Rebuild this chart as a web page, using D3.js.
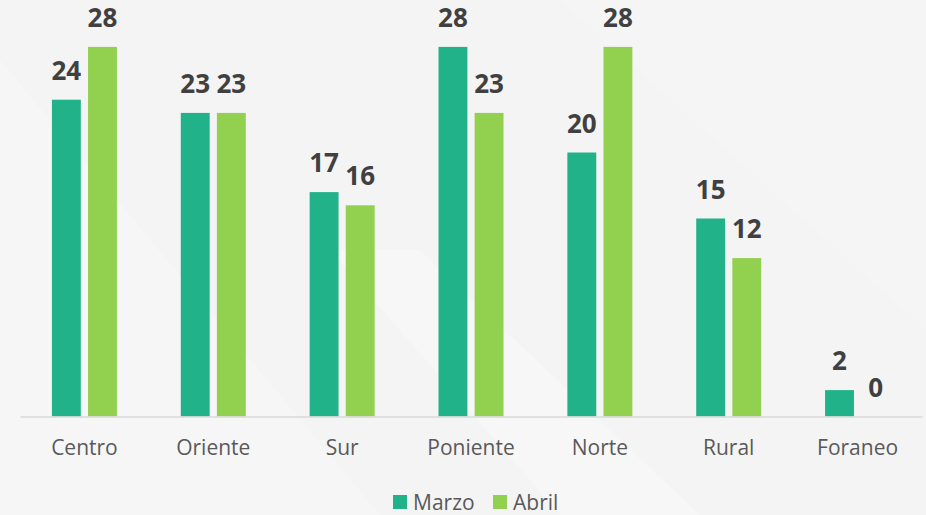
<!DOCTYPE html>
<html>
<head>
<meta charset="utf-8">
<script src="https://cdn.jsdelivr.net/npm/d3@7"></script>
<style>
  html, body { margin: 0; padding: 0; background: #f4f4f4; }
  svg { display: block; }
</style>
</head>
<body>
<svg id="chart" width="926" height="515"></svg>
<script>
// Casos por zona, comparativo marzo / abril
const categories = ["Centro", "Oriente", "Sur", "Poniente", "Norte", "Rural", "Foraneo"];
const seriesNames = ["Marzo", "Abril"];
const marzo = [24, 23, 17, 28, 20, 15, 2];
const abril = [28, 23, 16, 23, 28, 12, 0];
const colors = ["#21b28a", "#92d050"];

const W = 926, H = 515;
const svg = d3.select("#chart");

// soft diagonal sheen on the background
const bg = svg.append("g");
bg.append("rect").attr("width", W).attr("height", H).attr("fill", "#f4f4f4");
bg.append("path").attr("d", "M0,60 L0,515 L380,515 Z").attr("fill", "#ffffff").attr("opacity", 0.2);
bg.append("path").attr("d", "M330,250 L560,515 L700,515 L420,250 Z").attr("fill", "#ffffff").attr("opacity", 0.25);
bg.append("path").attr("d", "M560,0 L926,330 L926,0 Z").attr("fill", "#ffffff").attr("opacity", 0.15);

const baseline = 416.5;
const x0 = d3.scaleBand().domain(categories).range([20, 922]).paddingInner(0).paddingOuter(0);
const groupW = 65;
const x1 = d3.scaleBand().domain(seriesNames).range([0, groupW]).paddingInner(0.2).paddingOuter(0);
const y = d3.scaleLinear().domain([0, 30]).range([baseline, 20.5]);

const rows = categories.map((c, i) => ({ cat: c, vals: [marzo[i], abril[i]] }));

const groups = svg.append("g").selectAll("g").data(rows).join("g")
  .attr("transform", d => `translate(${x0(d.cat) + (x0.bandwidth() - groupW) / 2},0)`);

groups.selectAll("rect").data(d => d.vals.map((v, j) => ({ v, s: seriesNames[j], j }))).join("rect")
  .attr("x", d => x1(d.s))
  .attr("width", x1.bandwidth())
  .attr("y", d => y(d.v))
  .attr("height", d => baseline - y(d.v))
  .attr("fill", d => colors[d.j]);

groups.selectAll("text").data(d => d.vals.map((v, j) => ({ v, s: seriesNames[j], j }))).join("text")
  .attr("x", d => x1(d.s) + x1.bandwidth() / 2)
  .attr("y", d => y(d.v) - 20)
  .attr("text-anchor", "middle")
  .attr("font-family", "'Open Sans', sans-serif")
  .attr("font-weight", 700)
  .attr("font-size", 26)
  .attr("fill", "#404040")
  .text(d => d.v);

// category axis
const axis = svg.append("g").attr("transform", `translate(0,${baseline})`)
  .call(d3.axisBottom(x0).tickSize(0).tickPadding(24));
axis.select(".domain").attr("stroke", "#d9d9d9").attr("stroke-width", 1.5);
axis.selectAll("text")
  .attr("font-family", "'Open Sans', sans-serif")
  .attr("font-size", 21)
  .attr("fill", "#595959");

// legend
const legend = svg.append("g").attr("transform", "translate(393,495)");
const items = [{ name: seriesNames[0], x: 0 }, { name: seriesNames[1], x: 100 }];
items.forEach((it, j) => {
  const g = legend.append("g").attr("transform", `translate(${it.x},0)`);
  g.append("rect").attr("width", 14).attr("height", 14).attr("fill", colors[j]);
  g.append("text").attr("x", 20).attr("y", 14.5)
    .attr("font-family", "'Open Sans', sans-serif")
    .attr("font-size", 21).attr("fill", "#595959").text(it.name);
});
</script>
</body>
</html>
